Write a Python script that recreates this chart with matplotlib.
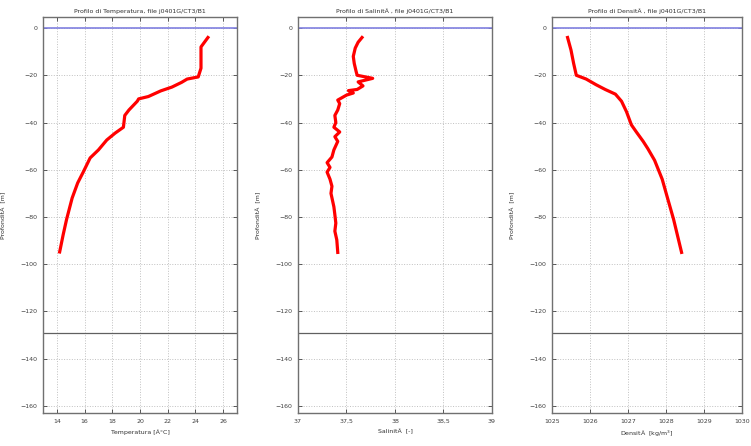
import numpy as np
import matplotlib.pyplot as plt

# Profile data (depth in m, negative downwards)
depth_t = [-4, -8, -17, -20.7, -21.6, -23, -25, -26.6, -29, -30, -31, -34.7, -37,
           -42, -44.5, -47.4, -51.6, -55, -61, -65.6, -72, -81, -87.6, -94.8]
temp = [24.9, 24.4, 24.4, 24.2, 23.4, 23.0, 22.3, 21.5, 20.6, 19.9, 19.8, 19.2, 18.9,
        18.8, 18.2, 17.6, 17.0, 16.4, 15.9, 15.5, 15.1, 14.7, 14.45, 14.2]

depth_s = [-4, -6, -8.5, -12, -15, -18.5, -20, -21.3, -22.8, -24.5, -26, -26.5, -27.5,
           -28.4, -30.5, -32, -34.7, -37, -40, -42, -44, -46, -48, -51.6, -54.6,
           -57, -59, -61, -64, -67, -70, -75.7, -79, -82.6, -86, -89.7, -95]
sal = [37.66, 37.62, 37.59, 37.57, 37.58, 37.60, 37.61, 37.77, 37.62, 37.67, 37.61,
       37.52, 37.57, 37.50, 37.41, 37.43, 37.41, 37.38, 37.39, 37.37, 37.43, 37.38,
       37.41, 37.37, 37.35, 37.30, 37.33, 37.30, 37.33, 37.35, 37.34, 37.37, 37.38,
       37.39, 37.38, 37.40, 37.41]

depth_d = [-4, -9.3, -15, -20, -21.6, -24, -26, -28, -31, -35.4, -41, -44, -48,
           -51, -56, -64, -71.4, -81, -95]
dens = [1025.41, 1025.50, 1025.57, 1025.64, 1025.90, 1026.16, 1026.40, 1026.67,
        1026.83, 1026.96, 1027.09, 1027.22, 1027.40, 1027.52, 1027.70, 1027.90,
        1028.03, 1028.20, 1028.41]

bottom_depth = -129
yticks = [0, -20, -40, -60, -80, -100, -120, -140, -160]

temp_ticks = [14, 16, 18, 20, 22, 24, 26]
sal_ticks = [37, 37.5, 38, 38.5, 39]
sal_ticklabels = ['37', '37,5', '38', '38,5', '39']
dens_ticks = [1025, 1026, 1027, 1028, 1029, 1030]

station = 'j0401G/CT3/B1'

plt.rcParams['font.family'] = 'DejaVu Sans'
plt.rcParams['font.size'] = 4.5

fig = plt.figure(figsize=(7.51, 4.46), dpi=100)

panels = [
    (0.0573, 0.2583, depth_t, temp, (13, 27), temp_ticks, None,
     'Profilo di Temperatura, file ' + station, 'Temperatura [Â°C]'),
    (0.3968, 0.2583, depth_s, sal, (37, 39), sal_ticks, sal_ticklabels,
     'Profilo di SalinitÃ , file ' + station, 'SalinitÃ  [-]'),
    (0.7350, 0.2530, depth_d, dens, (1025, 1030), dens_ticks, None,
     'Profilo di DensitÃ , file ' + station, 'DensitÃ  [kg/m$^3$]'),
]

for left, width, depth, vals, xlim, xt, xtl, title, xlabel in panels:
    ax = fig.add_axes([left, 0.074, width, 0.888])
    ax.plot(vals, depth, color='red', lw=2.3, zorder=3)
    ax.axhline(0, color='#8080e0', lw=1.2, zorder=2)
    ax.axhline(bottom_depth, color='#606060', lw=0.9, zorder=2)
    ax.set_xlim(*xlim)
    ax.set_ylim(-163, 4.7)
    ax.set_xticks(xt)
    if xtl is not None:
        ax.set_xticklabels(xtl)
    ax.set_yticks(yticks)
    ax.grid(True, color='#c0c0c0', ls=':', lw=0.7)
    ax.tick_params(direction='in', top=True, right=True, length=3,
                   width=0.6, colors='#404040', pad=4, labelsize=4.5)
    for s in ax.spines.values():
        s.set_color('#707070')
        s.set_linewidth(1.0)
    ax.set_title(title, fontsize=4.5, pad=3, color='#303030')
    ax.set_xlabel(xlabel, fontsize=4.5, labelpad=4, color='#303030')
    ax.set_ylabel('ProfonditÃ  [m]', fontsize=4.5, labelpad=10, color='#303030')

fig.savefig('out.png', dpi=100)
